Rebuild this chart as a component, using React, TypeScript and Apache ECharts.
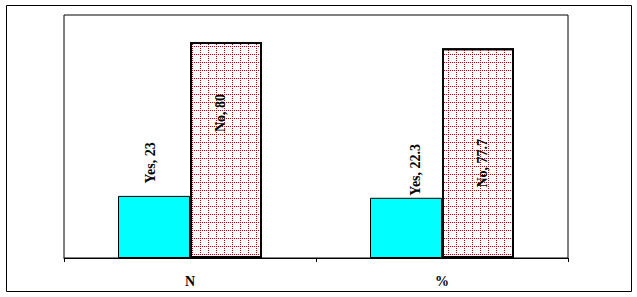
import React, { useEffect, useRef } from "react";
import * as echarts from "echarts";

const categories = ["N", "%"];
const seriesNames = ["Yes", "No"];
const yesValues = [23, 22.3];
const noValues = [80, 77.7];
const yMax = 90;

// label anchor offsets (px, relative to each bar's top-left)
const yesLabelPos = [[32, -33], [45, -28]];
const noLabelPos = [[30, 71], [40, 115]];

export default function App() {
  const ref = useRef<HTMLDivElement>(null);
  useEffect(() => {
    document.body.style.margin = "0";
    const chart = echarts.init(ref.current!, null, { renderer: "svg" });
    const font = "Liberation Serif";
    const labelBase = {
      show: true,
      rotate: 90,
      align: "center",
      verticalAlign: "middle",
      fontFamily: font,
      fontWeight: "bold",
      fontSize: 14,
      color: "#000",
      formatter: (p: any) => `${p.seriesName}, ${p.value}`,
    };
    chart.setOption({
      animation: false,
      backgroundColor: "#ffffff",
      grid: {
        left: 64,
        right: 69,
        top: 15,
        bottom: 39,
        show: true,
        borderColor: "#000",
        borderWidth: 1,
        backgroundColor: "transparent",
      },
      xAxis: {
        type: "category",
        data: categories,
        axisLine: { lineStyle: { color: "#000", width: 1 } },
        axisTick: { show: true, length: 4, lineStyle: { color: "#000" } },
        axisLabel: {
          fontFamily: font,
          fontWeight: "bold",
          fontSize: 14,
          color: "#000",
          margin: 16,
        },
      },
      yAxis: {
        type: "value",
        min: 0,
        max: yMax,
        show: false,
        splitLine: { show: false },
      },
      graphic: [
        {
          type: "rect",
          shape: { x: 6.5, y: 5.5, width: 625, height: 286 },
          style: { fill: "none", stroke: "#000", lineWidth: 1 },
          silent: true,
        },
      ],
      series: [
        {
          name: seriesNames[0],
          type: "bar",
          barGap: "0%",
          barWidth: 72,
          itemStyle: { color: "#00ffff", borderColor: "#000", borderWidth: 1 },
          data: yesValues.map((v, i) => ({
            value: v,
            label: { ...labelBase, position: yesLabelPos[i] },
          })),
        },
        {
          name: seriesNames[1],
          type: "bar",
          barGap: "0%",
          barWidth: 72,
          itemStyle: {
            color: "#ffffff",
            borderColor: "#000",
            borderWidth: 2,
            decal: {
              symbol: "rect",
              symbolSize: 1,
              symbolKeepAspect: false,
              color: "#b80000",
              backgroundColor: "#ffffff",
              dashArrayX: [[1, 1], [1, 7], [1, 7], [1, 7]],
              dashArrayY: [1, 1],
              rotation: 0,
            },
          },
          data: noValues.map((v, i) => ({
            value: v,
            label: { ...labelBase, position: noLabelPos[i] },
          })),
        },
      ],
    });
    return () => chart.dispose();
  }, []);
  return <div ref={ref} style={{ width: 637, height: 297 }} />;
}
